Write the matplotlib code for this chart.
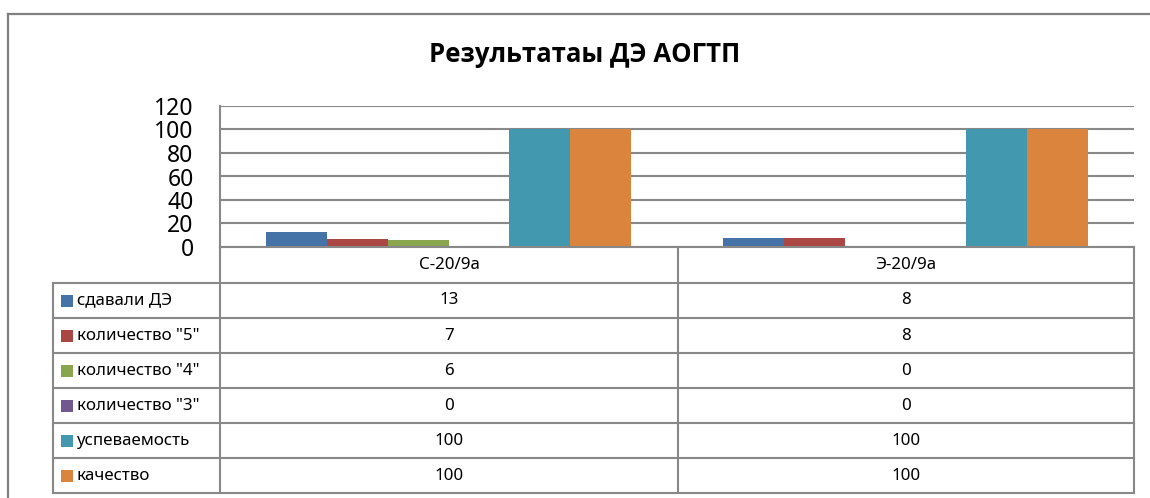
import matplotlib
matplotlib.use('Agg')
import matplotlib.pyplot as plt
from matplotlib.lines import Line2D
from matplotlib.patches import Rectangle

plt.rcParams['font.family'] = ['Noto Sans', 'DejaVu Sans']

# данные
categories = ['С-20/9а', 'Э-20/9а']
series = ['сдавали ДЭ', 'количество "5"', 'количество "4"', 'количество "3"', 'успеваемость', 'качество']
values_c = [13, 7, 6, 0, 100, 100]
values_e = [8, 8, 0, 0, 100, 100]
colors = ['#4572A7', '#AA4643', '#89A54E', '#71588F', '#4198AF', '#DB843D']
yticks = [0, 20, 40, 60, 80, 100, 120]
title = 'Результатаы ДЭ АОГТП'

W, H = 1150, 498
fig = plt.figure(figsize=(W / 100, H / 100), dpi=100)

# пиксели -> доли фигуры
def fx(x):
    return x / W

def fy(y):
    return 1 - y / H

def hline(x0, x1, y, color='#888888', lw=1.5):
    fig.add_artist(Line2D([fx(x0), fx(x1)], [fy(y), fy(y)], transform=fig.transFigure, color=color, lw=lw))

def vline(x, y0, y1, color='#888888', lw=1.5):
    fig.add_artist(Line2D([fx(x), fx(x)], [fy(y0), fy(y1)], transform=fig.transFigure, color=color, lw=lw))

# область графика
ax_l, ax_r, ax_t, ax_b = 220, 1134, 106, 247
ax = fig.add_axes([fx(ax_l), fy(ax_b), (ax_r - ax_l) / W, (ax_b - ax_t) / H])

n = len(series)
bw = 1 / 7.5
for j in range(n):
    vals = [values_c[j], values_e[j]]
    xs = [i + (j - (n - 1) / 2) * bw for i in range(len(categories))]
    ax.bar(xs, vals, width=bw, color=colors[j], zorder=3, linewidth=0)

ax.set_xlim(-0.5, len(categories) - 0.5)
ax.set_ylim(0, 120)
ax.set_yticks(yticks)
ax.set_yticklabels([str(t) for t in yticks], fontsize=16.5)
ax.tick_params(axis='y', length=0, pad=19)
ax.set_xticks([])
ax.grid(axis='y', color='#888888', lw=1.5, zorder=0)
for s in ['top', 'right', 'bottom']:
    ax.spines[s].set_visible(False)
ax.spines['left'].set_color('#888888')
ax.spines['left'].set_linewidth(1.5)

# рамка диаграммы
hline(8, W, 14, color='#808080', lw=1.6)
vline(8, 14, H, color='#808080', lw=1.6)

# заголовок
fig.text(fx(585), fy(54), title, ha='center', va='center', fontsize=18.5,
         fontweight='bold', family=['Open Sans', 'DejaVu Sans'])

# таблица данных
rows = [283, 318, 353, 388, 423, 458, 493]
col_x = [220, 678, 1134]
tab_l = 53
hline(ax_l, ax_r, 247)
for y in rows:
    hline(tab_l, ax_r, y)
vline(220, 247, 493)
vline(678, 247, 493)
vline(1134, 247, 493)
vline(tab_l, 283, 493)

fs = 12.2
for i, cat in enumerate(categories):
    cx = (col_x[i] + col_x[i + 1]) / 2
    fig.text(fx(cx), fy(265), cat, ha='center', va='center', fontsize=fs)

for j, name in enumerate(series):
    cy = (rows[j] + rows[j + 1]) / 2
    fig.add_artist(Rectangle((fx(61), fy(cy + 6)), 12 / W, 12 / H, transform=fig.transFigure,
                             facecolor=colors[j], edgecolor='none'))
    fig.text(fx(77), fy(cy), name, ha='left', va='center', fontsize=fs)
    for i, vals in enumerate([values_c, values_e]):
        cx = (col_x[i] + col_x[i + 1]) / 2
        fig.text(fx(cx), fy(cy), str(vals[j]), ha='center', va='center', fontsize=fs)

fig.savefig('out.png', dpi=100)
